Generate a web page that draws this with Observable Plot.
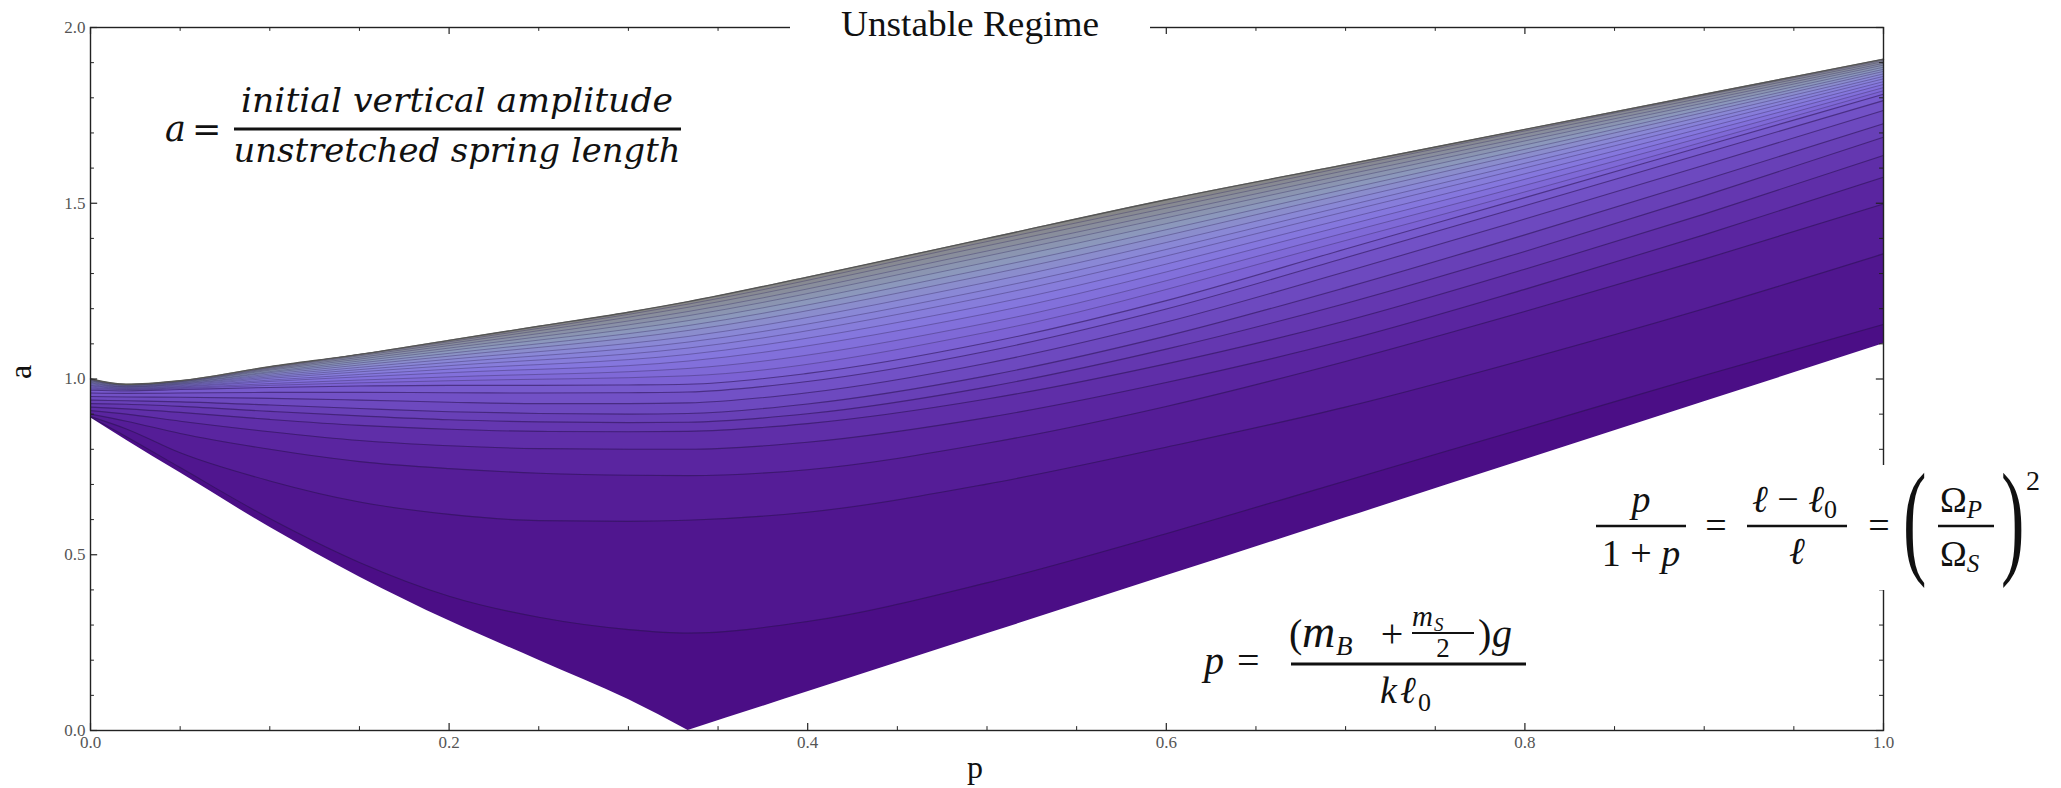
<!DOCTYPE html>
<html><head><meta charset="utf-8">
<script src="https://cdn.jsdelivr.net/npm/d3@7"></script>
<script src="https://cdn.jsdelivr.net/npm/@observablehq/plot@0.6"></script>
<style>
html,body{margin:0;padding:0;background:#fff;}
#chart{width:2061px;height:788px;}
</style></head><body><div id="chart"></div>
<script>
// ---- sample positions along p ----
const pGrid  = [0, 0.02, 0.05, 0.1, 0.15, 0.2, 0.25, 0.3, 0.3333, 0.4, 0.5, 0.6, 0.7, 0.8, 0.9, 1.0];
const pDense = [0, 0.02, 0.05, 0.1, 0.2, 0.3333, 0.5, 0.7, 1.0];
const pLeft  = [0, 0.02, 0.05, 0.1, 0.15, 0.2, 0.25, 0.3, 0.3333];
const pRight = [0.3333, 0.4, 0.5, 0.6, 0.7, 0.8, 0.9, 1.0];

// ---- region boundaries ----
const lowerLeft  = [0.890, 0.826, 0.733, 0.578, 0.437, 0.312, 0.200, 0.088, 0.000];   // at pLeft
const lowerRight = [0.000, 0.110, 0.275, 0.440, 0.605, 0.770, 0.935, 1.100];          // at pRight
const upperEdge  = [1.000, 0.985, 0.995, 1.035, 1.070, 1.110, 1.150, 1.190, 1.220, 1.290, 1.400, 1.510, 1.610, 1.710, 1.810, 1.910]; // at pGrid

// ---- distinct contour lines (a values at pGrid) ----
const contour1  = [0.891, 0.836, 0.748, 0.603, 0.478, 0.382, 0.322, 0.287, 0.277, 0.310, 0.420, 0.560, 0.710, 0.860, 1.010, 1.155];
const contour2  = [0.893, 0.858, 0.790, 0.710, 0.650, 0.615, 0.597, 0.595, 0.598, 0.621, 0.701, 0.806, 0.920, 1.055, 1.200, 1.356];
const contour3  = [0.900, 0.880, 0.845, 0.800, 0.765, 0.745, 0.732, 0.726, 0.725, 0.742, 0.817, 0.922, 1.050, 1.192, 1.341, 1.498];
const contour4  = [0.910, 0.900, 0.880, 0.850, 0.825, 0.810, 0.802, 0.800, 0.800, 0.820, 0.890, 0.990, 1.110, 1.255, 1.410, 1.574];
const contour5  = [0.920, 0.915, 0.905, 0.885, 0.868, 0.857, 0.851, 0.850, 0.851, 0.873, 0.943, 1.043, 1.165, 1.312, 1.469, 1.636];
const contour6  = [0.930, 0.928, 0.922, 0.908, 0.895, 0.884, 0.878, 0.876, 0.877, 0.901, 0.977, 1.085, 1.215, 1.363, 1.521, 1.688];
const contour7  = [0.940, 0.938, 0.935, 0.926, 0.916, 0.907, 0.902, 0.900, 0.902, 0.929, 1.009, 1.122, 1.260, 1.410, 1.566, 1.726];
const contour8  = [0.950, 0.949, 0.948, 0.945, 0.940, 0.934, 0.930, 0.930, 0.932, 0.961, 1.045, 1.162, 1.305, 1.455, 1.608, 1.764];
const contour9  = [0.960, 0.959, 0.960, 0.962, 0.962, 0.961, 0.960, 0.961, 0.963, 0.993, 1.079, 1.199, 1.345, 1.493, 1.642, 1.792];
const contour10 = [0.968, 0.966, 0.970, 0.976, 0.980, 0.982, 0.982, 0.983, 0.985, 1.016, 1.103, 1.223, 1.370, 1.516, 1.663, 1.810];

// ---- dense contour lines near the upper edge (a values at pDense) ----
const denseLines = [
  [0.971, 0.968, 0.973, 0.982, 0.995, 1.009, 1.133, 1.394, 1.820],
  [0.974, 0.970, 0.975, 0.987, 1.006, 1.030, 1.159, 1.416, 1.829],
  [0.977, 0.971, 0.977, 0.993, 1.018, 1.051, 1.186, 1.437, 1.838],
  [0.980, 0.973, 0.979, 0.997, 1.028, 1.070, 1.210, 1.456, 1.846],
  [0.982, 0.974, 0.981, 1.002, 1.038, 1.088, 1.234, 1.476, 1.854],
  [0.984, 0.976, 0.983, 1.006, 1.047, 1.105, 1.254, 1.492, 1.861],
  [0.987, 0.977, 0.985, 1.010, 1.056, 1.121, 1.275, 1.509, 1.868],
  [0.989, 0.978, 0.986, 1.014, 1.065, 1.138, 1.296, 1.526, 1.875],
  [0.991, 0.979, 0.988, 1.018, 1.073, 1.152, 1.314, 1.540, 1.881],
  [0.993, 0.981, 0.989, 1.021, 1.081, 1.166, 1.332, 1.555, 1.887],
  [0.995, 0.982, 0.991, 1.025, 1.088, 1.180, 1.350, 1.569, 1.893],
  [0.996, 0.983, 0.992, 1.028, 1.095, 1.192, 1.364, 1.581, 1.898],
  [0.998, 0.984, 0.993, 1.031, 1.101, 1.204, 1.379, 1.593, 1.903],
  [0.999, 0.984, 0.994, 1.033, 1.106, 1.213, 1.391, 1.603, 1.907]
];

// ---- axis ticks ----
const xMajor = [0, 0.2, 0.4, 0.6, 0.8, 1.0];
const xMinor = [0.05, 0.1, 0.15, 0.25, 0.3, 0.35, 0.45, 0.5, 0.55, 0.65, 0.7, 0.75, 0.85, 0.9, 0.95];
const yMajor = [0, 0.5, 1.0, 1.5, 2.0];
const yMinor = [0.1, 0.2, 0.3, 0.4, 0.6, 0.7, 0.8, 0.9, 1.1, 1.2, 1.3, 1.4, 1.6, 1.7, 1.8, 1.9];

// ---- build tables (top line first so lower bands paint over) ----
const mainLines = [contour1, contour2, contour3, contour4, contour5, contour6, contour7, contour8, contour9, contour10];
const lines = [];
mainLines.forEach((vals, i) => lines.push({name: "c" + (i + 1), level: i + 1, ps: pGrid, vals}));
denseLines.forEach((vals, i) => lines.push({name: "d" + (i + 1), level: mainLines.length + i + 1, ps: pDense, vals}));
lines.push({name: "upper", level: mainLines.length + denseLines.length + 1, ps: pGrid, vals: upperEdge});

const bandRows = [];
lines.slice().reverse().forEach(l => l.vals.forEach((a, j) => bandRows.push({line: l.name, level: l.level, p: l.ps[j], a})));
const mainRows = bandRows.filter(d => d.line.startsWith("c"));
const denseRows = bandRows.filter(d => d.line.startsWith("d"));
const upperRows = pGrid.map((p, j) => ({p, a: upperEdge[j]}));
const lowerRows = [
  ...pLeft.map((p, j) => ({side: "left", p, a: lowerLeft[j]})),
  ...pRight.map((p, j) => ({side: "right", p, a: lowerRight[j]}))
];

const tickLenY = 0.02, tickLenYm = 0.011;   // x-axis ticks (in a units)
const tickLenX = 0.004, tickLenXm = 0.0022; // y-axis ticks (in p units)

const serif = "'Liberation Serif', 'Times New Roman', Times, serif";
const cambria = "'DejaVu Serif', serif";

const plot = Plot.plot({
  width: 2061, height: 788,
  marginLeft: 90, marginRight: 178, marginTop: 27, marginBottom: 58,
  x: {domain: [0, 1]},
  y: {domain: [0, 2]},
  color: {type: "linear", domain: [1, 4, 8, 11, 14, 17, 20, 25],
          range: ["#4b0e86", "#5a25a0", "#6d49bf", "#7c62d4", "#8577de", "#8a88d6", "#8c98bc", "#878787"]},
  style: {fontFamily: serif, background: "white"},
  marks: [
    Plot.areaY(bandRows, {x: "p", y1: 0, y2: "a", z: "line", fill: "level", curve: "monotone-x"}),
    Plot.line(mainRows, {x: "p", y: "a", z: "line", stroke: "#2a1450", strokeOpacity: 0.55, strokeWidth: 1.1, curve: "monotone-x"}),
    Plot.line(denseRows, {x: "p", y: "a", z: "line", stroke: "#3a3060", strokeOpacity: 0.4, strokeWidth: 1, curve: "monotone-x"}),
    Plot.line(upperRows, {x: "p", y: "a", stroke: "#555", strokeWidth: 1.4, curve: "monotone-x"}),
    Plot.areaY(lowerRows, {x: "p", y1: 0, y2: "a", z: "side", fill: "white", curve: "monotone-x"}),
    Plot.frame({stroke: "#222", strokeWidth: 1.4}),
    // inward ticks on all four sides
    Plot.ruleX(xMajor, {x: d => d, y1: 0, y2: tickLenY, stroke: "#222", strokeWidth: 1.2}),
    Plot.ruleX(xMinor, {x: d => d, y1: 0, y2: tickLenYm, stroke: "#222", strokeWidth: 1}),
    Plot.ruleX(xMajor, {x: d => d, y1: 2, y2: 2 - tickLenY, stroke: "#222", strokeWidth: 1.2}),
    Plot.ruleX(xMinor, {x: d => d, y1: 2, y2: 2 - tickLenYm, stroke: "#222", strokeWidth: 1}),
    Plot.ruleY(yMajor, {y: d => d, x1: 0, x2: tickLenX, stroke: "#222", strokeWidth: 1.2}),
    Plot.ruleY(yMinor, {y: d => d, x1: 0, x2: tickLenXm, stroke: "#222", strokeWidth: 1}),
    Plot.ruleY(yMajor, {y: d => d, x1: 1, x2: 1 - tickLenX, stroke: "#222", strokeWidth: 1.2}),
    Plot.ruleY(yMinor, {y: d => d, x1: 1, x2: 1 - tickLenXm, stroke: "#222", strokeWidth: 1}),
    Plot.axisX({ticks: xMajor, tickSize: 0, tickPadding: 5, tickFormat: d3.format(".1f"), fontSize: 17, fill: "#555", label: null}),
    Plot.axisY({ticks: yMajor, tickSize: 0, tickPadding: 5, tickFormat: d3.format(".1f"), fontSize: 17, fill: "#555", label: null})
  ]
});
document.getElementById("chart").appendChild(plot);

// ---- annotations (title, axis names, formulas) ----
const svg = d3.select(plot);
const g = svg.append("g").attr("font-family", serif).attr("fill", "#111");
function t(x, y, s, o = {}) {
  const el = g.append("text").attr("x", x).attr("y", y).text(s)
    .attr("font-size", o.size || 34).attr("text-anchor", o.anchor || "start");
  if (o.family) el.attr("font-family", o.family);
  if (o.italic) el.attr("font-style", "italic");
  if (o.len) el.attr("textLength", o.len).attr("lengthAdjust", "spacingAndGlyphs");
  if (o.transform) el.attr("transform", o.transform);
  return el;
}
function rich(x, y, parts, o = {}) {
  const el = g.append("text").attr("x", x).attr("y", y)
    .attr("font-size", o.size || 36).attr("text-anchor", o.anchor || "start");
  parts.forEach(pt => {
    const s = el.append("tspan").text(pt.s);
    if (pt.italic) s.attr("font-style", "italic");
    if (pt.size) s.attr("font-size", pt.size);
    if (pt.dy) s.attr("dy", pt.dy);
  });
  return el;
}
function bar(x1, x2, y, w = 3) {
  g.append("line").attr("x1", x1).attr("x2", x2).attr("y1", y).attr("y2", y).attr("stroke", "#111").attr("stroke-width", w);
}
function box(x, y, w, h) {
  g.append("rect").attr("x", x).attr("y", y).attr("width", w).attr("height", h).attr("fill", "white");
}

// title breaking the top frame line
box(790, 10, 360, 30);
t(970, 36, "Unstable Regime", {size: 35, anchor: "middle", len: 258});

// axis names
t(975, 778, "p", {size: 32, anchor: "middle"});
t(0, 0, "a", {size: 32, anchor: "middle", transform: "translate(31,372) rotate(-90)"});

// a = initial vertical amplitude / unstretched spring length
t(165, 141, "a", {size: 35, italic: true, family: cambria});
t(192, 141, "=", {size: 35, family: cambria});
t(457, 112, "initial vertical amplitude", {size: 33, italic: true, anchor: "middle", len: 432, family: cambria});
bar(234, 681, 129, 3);
t(457, 162, "unstretched spring length", {size: 33, italic: true, anchor: "middle", len: 447, family: cambria});

// p = (m_B + m_S/2) g / k l0
t(1204, 674, "p", {size: 40, italic: true});
t(1237, 674, "=", {size: 40});
t(1289, 647, "(", {size: 40});
t(1302, 647, "m", {size: 46, italic: true});
t(1336, 655, "B", {size: 27, italic: true});
t(1392, 647, "+", {size: 40, anchor: "middle"});
t(1412, 626, "m", {size: 29, italic: true});
t(1434, 631, "S", {size: 19, italic: true});
bar(1412, 1474, 633, 1.8);
t(1443, 657, "2", {size: 27, anchor: "middle"});
t(1478, 647, ")", {size: 40});
t(1492, 647, "g", {size: 40, italic: true});
bar(1291, 1526, 664, 3);
t(1380, 703, "k", {size: 38, italic: true});
t(1400, 703, "ℓ", {size: 38, italic: true});
t(1418, 711, "0", {size: 26});

// p/(1+p) = (l - l0)/l = (Ωp/Ωs)^2 on a white box breaking the right frame line
box(1588, 465, 473, 125);
t(1641, 512, "p", {size: 38, italic: true, anchor: "middle"});
bar(1596, 1686, 526, 2.6);
rich(1641, 566, [{s: "1 + "}, {s: "p", italic: true}], {size: 38, anchor: "middle"});
t(1716, 538, "=", {size: 38, anchor: "middle"});
rich(1752, 512, [{s: "ℓ", italic: true}, {s: " − "}, {s: "ℓ", italic: true}, {s: "0", size: 26, dy: 6}], {size: 38});
bar(1747, 1847, 526, 2.6);
t(1797, 564, "ℓ", {size: 38, italic: true, anchor: "middle"});
t(1879, 538, "=", {size: 38, anchor: "middle"});
t(0, 0, "(", {size: 128, transform: "translate(1903,561) scale(0.55,1)"});
rich(1940, 512, [{s: "Ω"}, {s: "P", italic: true, size: 25, dy: 6}], {size: 36});
bar(1938, 1994, 526, 2.6);
rich(1940, 566, [{s: "Ω"}, {s: "S", italic: true, size: 25, dy: 6}], {size: 36});
t(0, 0, ")", {size: 128, transform: "translate(2001,561) scale(0.55,1)"});
t(2026, 490, "2", {size: 28});
</script></body></html>
